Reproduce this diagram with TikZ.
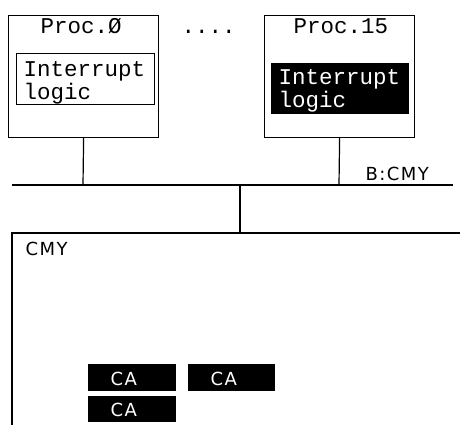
\documentclass[tikz,border=0pt]{standalone}
\usepackage{fontspec}
\newfontfamily\monof{Liberation Mono}
\newfontfamily\sansf[LetterSpace=8]{DejaVu Sans}
\begin{document}
\begin{tikzpicture}[x=1pt,y=-1pt,line width=1.2pt,
  box/.style={draw,inner sep=0pt,anchor=north west},
  blackbox/.style={box,fill=black},
  mtext/.style={inner sep=0pt,anchor=base west,font=\monof\fontsize{22.5}{24}\selectfont},
  stext/.style={inner sep=0pt,anchor=base west,font=\sansf\fontsize{18}{20}\selectfont}]
\useasboundingbox (0,0) rectangle (460,424);
% processor boxes
\node[box,minimum width=150pt,minimum height=122pt] (p0) at (8,15) {};
\node[box,minimum width=138pt,minimum height=51pt] (i0) at (16,53) {};
\node[box,minimum width=150pt,minimum height=122pt] (p15) at (264,15) {};
\node[blackbox,minimum width=137pt,minimum height=50pt] (i15) at (271,63) {};
% labels
\node[mtext] (t0) at (40,33) {Proc.Ø};
\node[mtext] (dots) at (181,33) {....};
\node[mtext] (t15) at (293,33) {Proc.15};
\node[mtext] (l0a) at (23,76) {Interrupt};
\node[mtext] (l0b) at (23,99) {logic};
\node[mtext,text=white] (l15a) at (278,84) {Interrupt};
\node[mtext,text=white] (l15b) at (278,107) {logic};
% bus
\coordinate (busL) at (12,185);
\coordinate (busR) at (453,185);
\coordinate (j0) at (83,185);
\coordinate (j15) at (339,185);
\coordinate (jm) at (240,185);
\draw (busL) -- (busR);
\draw (p0.south) -- (j0);
\draw (p15.south) -- (j15);
\node[stext] (bus) at (365,180) {B:CMY};
% memory (only its top and left edges lie inside the picture)
\node[inner sep=0pt,anchor=north west,minimum width=448pt,minimum height=192pt] (cmy) at (12,233) {};
\draw (cmy.south west) -- (cmy.north west) -- (cmy.north east);
\draw (jm) -- (jm |- cmy.north);
\node[stext] (cmyl) at (25,255) {CMY};
\node[blackbox,minimum width=87pt,minimum height=26pt] (ca1) at (88,364) {};
\node[blackbox,minimum width=86pt,minimum height=26pt] (ca2) at (188,364) {};
\node[blackbox,minimum width=87pt,minimum height=25pt] (ca3) at (88,396) {};
\node[stext,text=white] (ca1t) at (110,385) {CA};
\node[stext,text=white] (ca2t) at (210,385) {CA};
\node[stext,text=white] (ca3t) at (110,416) {CA};
\end{tikzpicture}
\end{document}
